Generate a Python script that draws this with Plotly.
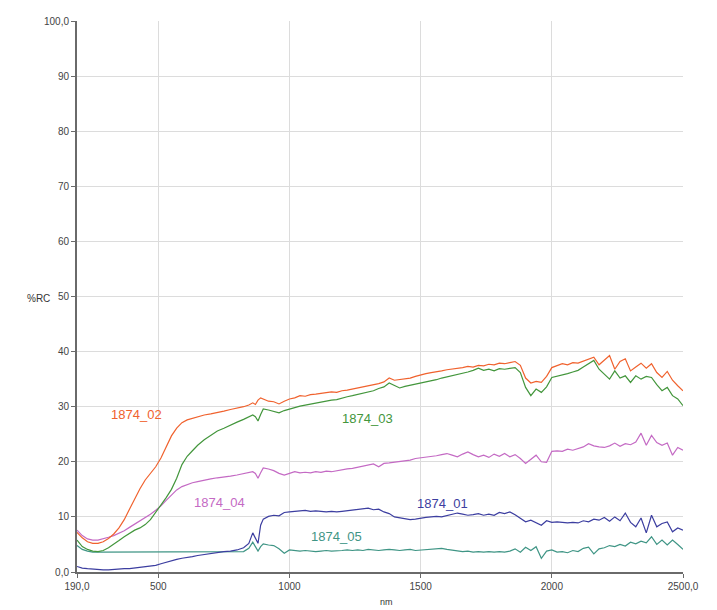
import plotly.graph_objects as go

# Wavelengths (nm)
wavelength = [190, 210, 230, 250, 270, 290, 310, 330, 350, 370, 390, 410, 430, 450, 470, 490,
              510, 530, 550, 570, 590, 610, 630, 650, 675, 700, 725, 750, 775, 800, 825, 845,
              860, 870, 880, 890, 900, 920, 940, 960, 980, 1000,
              1020, 1040, 1060, 1080, 1100, 1120, 1140, 1160, 1180, 1200,
              1220, 1240, 1260, 1280, 1300, 1320, 1340, 1360, 1380, 1400,
              1420, 1440, 1460, 1480, 1500, 1520, 1540, 1560, 1580, 1600,
              1620, 1640, 1660, 1680, 1700, 1720, 1740, 1760, 1780, 1800,
              1820, 1840, 1860, 1880, 1900, 1920, 1940, 1960, 1980, 2000,
              2020, 2040, 2060, 2080, 2100, 2120, 2140, 2160, 2180, 2200,
              2220, 2240, 2260, 2280, 2300, 2320, 2340, 2360, 2380, 2400,
              2420, 2440, 2460, 2480, 2500]

s1874_02 = [7.2, 6.2, 5.5, 5.2, 5.2, 5.5, 6.1, 6.9, 8.0, 9.5, 11.4, 13.4, 15.1, 16.7, 17.9, 19.1,
            20.7, 22.7, 24.7, 26.1, 27.1, 27.6, 27.9, 28.2, 28.5, 28.7, 28.9, 29.2, 29.5, 29.7, 30.0, 30.3,
            30.7, 30.4, 31.2, 31.6, 31.4, 31.0, 30.9, 30.5, 31.0, 31.4,
            31.6, 32.0, 31.9, 32.2, 32.3, 32.4, 32.5, 32.7, 32.6, 32.9,
            33.0, 33.2, 33.4, 33.5, 33.8, 34.0, 34.2, 34.5, 35.2, 34.8,
            34.9, 35.0, 35.2, 35.5, 35.8, 36.0, 36.2, 36.3, 36.5, 36.7,
            36.8, 37.0, 37.1, 37.3, 37.2, 37.5, 37.4, 37.7, 37.6, 37.9,
            37.8, 38.0, 38.2, 37.5, 35.2, 34.3, 34.6, 34.4, 35.5, 37.1,
            37.4, 37.8, 37.6, 38.0, 37.9, 38.3, 38.6, 39.0, 37.6, 38.4,
            39.3, 36.8, 38.2, 38.7, 36.5, 37.2, 37.9, 37.0, 37.8, 36.2,
            35.3, 36.4, 34.8, 33.8, 32.9]

s1874_03 = [5.8, 4.6, 4.1, 3.8, 3.7, 3.9, 4.4, 5.0, 5.7, 6.4, 7.0, 7.6, 8.0, 8.6, 9.5, 10.8,
            12.0, 13.5, 15.0, 17.0, 19.5, 21.0, 22.0, 23.0, 24.0, 24.8, 25.6, 26.1, 26.7, 27.2, 27.7, 28.2,
            28.5, 28.2, 27.4, 28.6, 29.6, 29.4, 29.2, 28.9, 29.3, 29.6,
            29.9, 30.1, 30.3, 30.5, 30.7, 30.8, 31.0, 31.2, 31.3, 31.6,
            31.8, 32.0, 32.2, 32.4, 32.7, 32.9, 33.3, 33.6, 34.3, 33.8,
            33.4, 33.7, 33.9, 34.1, 34.2, 34.4, 34.6, 34.9, 35.2, 35.4,
            35.6, 35.8, 36.1, 36.3, 36.6, 37.0, 36.6, 36.8, 36.5, 36.9,
            36.8, 37.0, 37.1, 36.2, 33.5, 32.0, 33.2, 32.6, 33.6, 35.3,
            35.5, 35.8, 36.0, 36.3, 36.6, 37.2, 37.8, 38.4, 36.8, 35.9,
            35.0, 36.5, 35.2, 35.6, 34.4, 35.6, 35.0, 35.5, 35.3, 34.0,
            32.9, 33.5, 32.0, 31.4, 30.2]

s1874_04 = [7.6, 6.6, 6.0, 5.8, 5.8, 6.0, 6.3, 6.6, 7.0, 7.5, 8.1, 8.7, 9.2, 9.8, 10.5, 11.2,
            12.0, 13.0, 14.0, 14.9, 15.5, 15.9, 16.2, 16.4, 16.7, 16.9, 17.1, 17.2, 17.4, 17.6, 17.8, 18.0,
            18.2, 17.9, 17.0, 18.0, 18.9, 18.7, 18.4, 17.9, 17.6, 17.9,
            18.2, 18.0, 18.1, 18.0, 18.2, 18.1, 18.3, 18.2, 18.4, 18.6,
            18.7, 18.8, 19.0, 19.2, 19.4, 19.6, 19.1, 19.7, 19.8, 19.9,
            20.0, 20.2, 20.3, 20.6, 20.7, 20.8, 21.0, 21.1, 21.3, 21.5,
            21.2, 20.9, 21.4, 21.8, 21.3, 20.9, 21.2, 20.8, 21.4, 21.0,
            21.5, 20.9, 21.3, 20.6, 19.7, 20.5, 21.2, 20.0, 19.9, 21.9,
            22.0, 21.9, 22.3, 22.1, 22.4, 22.7, 23.3, 22.9, 22.7, 22.6,
            22.9, 23.4, 22.8, 23.3, 23.1, 23.6, 25.2, 23.0, 24.8, 23.5,
            23.0, 23.4, 21.2, 22.6, 22.1]

s1874_01 = [1.0, 0.7, 0.6, 0.5, 0.5, 0.4, 0.4, 0.5, 0.5, 0.6, 0.6, 0.7, 0.8, 0.9, 1.0, 1.2,
            1.5, 1.8, 2.1, 2.3, 2.5, 2.6, 2.8, 3.0, 3.2, 3.4, 3.5, 3.7, 3.8, 4.0, 4.4, 5.2,
            7.1, 6.2, 5.2, 8.5, 9.6, 10.1, 10.3, 10.2, 10.8, 10.9,
            11.0, 11.1, 11.2, 11.0, 11.1, 11.0, 10.9, 11.0, 10.9, 11.0,
            11.1, 11.2, 11.3, 11.5, 11.6, 11.3, 11.4, 10.9, 10.6, 10.0,
            9.8, 9.7, 9.5, 9.6, 9.8, 9.9, 10.0, 10.1, 10.0, 10.2,
            10.4, 10.7, 10.5, 10.3, 10.4, 10.6, 10.3, 10.5, 10.3, 10.8,
            10.6, 10.9, 10.4, 9.8, 9.1, 9.4, 8.9, 8.5, 9.3, 9.0,
            9.1, 9.0, 8.9, 9.0, 8.9, 9.3, 9.1, 9.6, 9.4, 9.9,
            9.2, 10.0, 9.3, 10.7, 9.0, 8.2, 9.8, 7.1, 10.3, 8.2,
            8.8, 9.1, 7.3, 8.0, 7.6]

s1874_05 = [4.8, 4.1, 3.8, 3.6, 3.6, 3.6, 3.6, 3.6, 3.6, 3.6, 3.6, 3.6, 3.6, 3.6, 3.6, 3.6,
            3.6, 3.6, 3.6, 3.6, 3.6, 3.6, 3.6, 3.6, 3.6, 3.6, 3.6, 3.6, 3.6, 3.6, 3.7, 4.3,
            5.4, 4.6, 3.8, 4.6, 5.1, 4.9, 4.8, 4.2, 3.4, 4.0,
            3.9, 3.8, 3.9, 3.8, 3.7, 3.8, 3.9, 3.8, 3.8, 3.9,
            4.0, 3.9, 4.0, 3.9, 4.1, 4.0, 3.9, 4.0, 4.1, 4.0,
            3.9, 4.0, 4.1, 3.9, 4.0, 4.1, 4.2, 4.3, 4.3, 4.1,
            4.0, 3.8, 3.7, 3.8, 3.6, 3.7, 3.6, 3.7, 3.6, 3.7,
            3.6, 3.8, 4.2, 3.6, 4.5, 3.9, 4.6, 2.5, 3.8, 4.0,
            3.6, 3.7, 3.5, 3.9, 3.7, 4.3, 4.5, 3.3, 4.2, 4.4,
            4.8, 4.6, 5.0, 4.7, 5.4, 5.1, 5.6, 5.3, 6.4, 5.0,
            5.8, 4.9, 5.8, 5.0, 4.1]

series_names = ["1874_05", "1874_01", "1874_04", "1874_03", "1874_02"]
series_values = [s1874_05, s1874_01, s1874_04, s1874_03, s1874_02]
series_colors = ["#3f9585", "#3c3ea0", "#c46ac4", "#43963c", "#f0622e"]

# Label placements (nm, %RC)
label_x = [1181, 1582, 735, 1296, 415]
label_y = [6.4, 12.5, 12.7, 27.8, 28.5]

x_tickvals = [190, 500, 1000, 1500, 2000, 2500]
x_ticktext = ["190,0", "500", "1000", "1500", "2000", "2500,0"]
y_tickvals = [0, 10, 20, 30, 40, 50, 60, 70, 80, 90, 100]
y_ticktext = ["0,0", "10", "20", "30", "40", "50", "60", "70", "80", "90", "100,0"]

fig = go.Figure()
for name, vals, col in zip(series_names, series_values, series_colors):
    fig.add_trace(go.Scatter(x=wavelength, y=vals, mode="lines", name=name,
                             line=dict(color=col, width=1.2), showlegend=False))

for name, lx, ly, col in zip(series_names, label_x, label_y, series_colors):
    fig.add_annotation(x=lx, y=ly, xref="x", yref="y", text=name, showarrow=False,
                       font=dict(family="Liberation Sans, Arial", size=13, color=col))

fig.add_annotation(xref="paper", yref="paper", x=-0.086, y=0.4955, text="%RC",
                   showarrow=False, font=dict(family="Liberation Sans, Arial", size=10, color="#333"))
fig.add_annotation(xref="paper", yref="paper", x=0.51, y=-0.0545, yanchor="middle", text="nm",
                   showarrow=False, borderpad=0,
                   font=dict(family="Liberation Sans, Arial", size=9, color="#333"))

fig.update_layout(
    width=717, height=610,
    margin=dict(l=77, r=34, t=21, b=38),
    paper_bgcolor="white", plot_bgcolor="white",
    font=dict(family="Liberation Sans, Arial", size=10, color="#444"),
)
fig.update_xaxes(range=[190, 2500], tickvals=x_tickvals, ticktext=x_ticktext,
                 showgrid=True, gridcolor="#dcdcdc", gridwidth=1,
                 showline=True, linecolor="#6a6a6a", linewidth=2,
                 ticks="outside", ticklen=4, tickcolor="#6a6a6a", tickwidth=1,
                 zeroline=False)
fig.update_yaxes(range=[0, 100], tickvals=y_tickvals, ticktext=y_ticktext,
                 showgrid=True, gridcolor="#dcdcdc", gridwidth=1,
                 showline=True, linecolor="#6a6a6a", linewidth=2,
                 ticks="outside", ticklen=4, tickcolor="#6a6a6a", tickwidth=1,
                 zeroline=False)

fig.write_html("out.html")
